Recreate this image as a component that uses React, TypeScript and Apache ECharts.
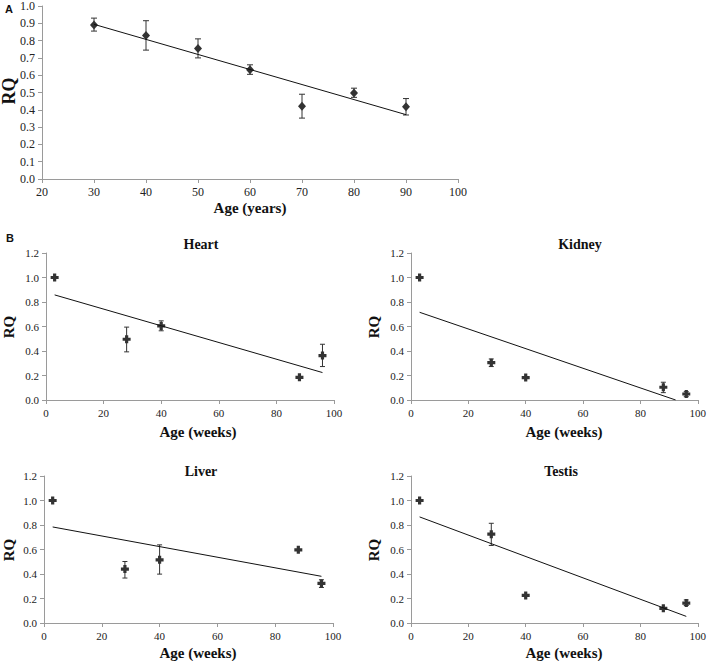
import React, { useEffect, useRef } from "react";
import * as echarts from "echarts";

// ---- Panel A (human, years) ----
const A_AGE = [30, 40, 50, 60, 70, 80, 90];
const A_RQ = [0.89, 0.83, 0.755, 0.632, 0.42, 0.497, 0.418];
const A_LOW = [0.855, 0.745, 0.7, 0.605, 0.352, 0.472, 0.37];
const A_HIGH = [0.93, 0.915, 0.81, 0.66, 0.49, 0.525, 0.465];
const A_TREND_X = [30, 90];
const A_TREND_Y = [0.894, 0.372];

// ---- Panel B (mouse tissues, weeks) ----
const WEEKS = [3, 28, 40, 88, 96];

const HEART_RQ = [1.0, 0.496, 0.605, 0.185, 0.363];
const HEART_LOW = [1.0, 0.393, 0.565, 0.185, 0.273];
const HEART_HIGH = [1.0, 0.595, 0.646, 0.185, 0.455];
const HEART_TREND_X = [3, 96];
const HEART_TREND_Y = [0.858, 0.224];

const KIDNEY_RQ = [1.0, 0.305, 0.183, 0.104, 0.049];
const KIDNEY_LOW = [1.0, 0.273, 0.183, 0.06, 0.027];
const KIDNEY_HIGH = [1.0, 0.335, 0.183, 0.145, 0.068];
const KIDNEY_TREND_X = [3, 92.3];
const KIDNEY_TREND_Y = [0.716, 0.0];

const LIVER_RQ = [1.0, 0.44, 0.516, 0.597, 0.323];
const LIVER_LOW = [1.0, 0.367, 0.399, 0.597, 0.29];
const LIVER_HIGH = [1.0, 0.502, 0.638, 0.597, 0.353];
const LIVER_TREND_X = [3, 96];
const LIVER_TREND_Y = [0.784, 0.381];

const TESTIS_RQ = [1.0, 0.725, 0.225, 0.12, 0.163];
const TESTIS_LOW = [1.0, 0.633, 0.225, 0.12, 0.143];
const TESTIS_HIGH = [1.0, 0.814, 0.225, 0.12, 0.188];
const TESTIS_TREND_X = [3, 96];
const TESTIS_TREND_Y = [0.866, 0.054];

const PANEL_TITLES = ["Heart", "Kidney", "Liver", "Testis"];

const SERIF = "Liberation Serif";
const SANS = "Liberation Sans";
const AXIS_COLOR = "#9a9a9a";
const MARK_COLOR = "#333333";
const PLUS = "path://M3,0 L7,0 L7,3 L10,3 L10,7 L7,7 L7,10 L3,10 L3,7 L0,7 L0,3 L3,3 Z";

export default function App() {
  const ref = useRef<HTMLDivElement>(null);

  useEffect(() => {
    if (!ref.current) return;
    const chart = echarts.init(ref.current, null, { renderer: "svg" });

    const grids = [
      { left: 42, top: 4, width: 416, height: 175 },
      { left: 46, top: 253, width: 288, height: 147 },
      { left: 411, top: 253, width: 289, height: 147 },
      { left: 44, top: 476, width: 289, height: 147 },
      { left: 411, top: 476, width: 289, height: 147 },
    ];

    const axisCommon = (fontSize: number) => ({
      type: "value" as const,
      axisLine: { show: true, lineStyle: { color: AXIS_COLOR, width: 1 } },
      axisTick: { show: true, length: 4, lineStyle: { color: AXIS_COLOR } },
      splitLine: { show: false },
      axisLabel: { fontFamily: SERIF, fontSize, color: "#222", margin: 7 },
    });

    const xAxes: any[] = [
      { ...axisCommon(12), gridIndex: 0, min: 20, max: 100, interval: 10 },
    ];
    const yAxes: any[] = [
      {
        ...axisCommon(12),
        gridIndex: 0,
        min: 0,
        max: 1,
        interval: 0.1,
        axisLabel: { ...axisCommon(12).axisLabel, formatter: (v: number) => v.toFixed(1) },
      },
    ];
    for (let i = 1; i <= 4; i++) {
      xAxes.push({ ...axisCommon(11), gridIndex: i, min: 0, max: 100, interval: 20 });
      yAxes.push({
        ...axisCommon(11),
        gridIndex: i,
        min: 0,
        max: 1.2,
        interval: 0.2,
        axisLabel: { ...axisCommon(11).axisLabel, formatter: (v: number) => v.toFixed(1) },
      });
    }

    const errorSeries = (idx: number, xs: number[], lo: number[], hi: number[], cap: number) => ({
      type: "custom",
      coordinateSystem: "cartesian2d",
      xAxisIndex: idx,
      yAxisIndex: idx,
      silent: true,
      z: 2,
      data: xs.map((x, i) => [x, lo[i], hi[i]]).filter((d) => d[2] > d[1]),
      renderItem: (_p: any, api: any) => {
        const x = api.value(0);
        const p1 = api.coord([x, api.value(2)]);
        const p2 = api.coord([x, api.value(1)]);
        const st = { stroke: MARK_COLOR, lineWidth: 1 };
        return {
          type: "group",
          children: [
            { type: "line", shape: { x1: p1[0], y1: p1[1], x2: p2[0], y2: p2[1] }, style: st },
            { type: "line", shape: { x1: p1[0] - cap, y1: p1[1], x2: p1[0] + cap, y2: p1[1] }, style: st },
            { type: "line", shape: { x1: p2[0] - cap, y1: p2[1], x2: p2[0] + cap, y2: p2[1] }, style: st },
          ],
        };
      },
    });

    const scatterSeries = (idx: number, xs: number[], ys: number[], symbol: string, size: any) => ({
      type: "scatter",
      xAxisIndex: idx,
      yAxisIndex: idx,
      symbol,
      symbolSize: size,
      itemStyle: { color: MARK_COLOR, opacity: 1 },
      z: 3,
      data: xs.map((x, i) => [x, ys[i]]),
    });

    const trendSeries = (idx: number, xs: number[], ys: number[]) => ({
      type: "line",
      xAxisIndex: idx,
      yAxisIndex: idx,
      symbol: "none",
      silent: true,
      lineStyle: { color: "#111", width: 1 },
      z: 4,
      data: xs.map((x, i) => [x, ys[i]]),
    });

    const panels = [
      { rq: HEART_RQ, lo: HEART_LOW, hi: HEART_HIGH, tx: HEART_TREND_X, ty: HEART_TREND_Y },
      { rq: KIDNEY_RQ, lo: KIDNEY_LOW, hi: KIDNEY_HIGH, tx: KIDNEY_TREND_X, ty: KIDNEY_TREND_Y },
      { rq: LIVER_RQ, lo: LIVER_LOW, hi: LIVER_HIGH, tx: LIVER_TREND_X, ty: LIVER_TREND_Y },
      { rq: TESTIS_RQ, lo: TESTIS_LOW, hi: TESTIS_HIGH, tx: TESTIS_TREND_X, ty: TESTIS_TREND_Y },
    ];

    const series: any[] = [
      errorSeries(0, A_AGE, A_LOW, A_HIGH, 3),
      scatterSeries(0, A_AGE, A_RQ, "diamond", [8, 9]),
      trendSeries(0, A_TREND_X, A_TREND_Y),
    ];
    panels.forEach((p, k) => {
      const idx = k + 1;
      series.push(errorSeries(idx, WEEKS, p.lo, p.hi, 2.5));
      series.push(scatterSeries(idx, WEEKS, p.rq, PLUS, 8));
      series.push(trendSeries(idx, p.tx, p.ty));
    });

    const txt = (text: string, x: number, y: number, size: number, opts: any = {}) => ({
      type: "text",
      x,
      y,
      rotation: opts.rotation || 0,
      style: {
        text,
        fontFamily: opts.family || SERIF,
        fontSize: size,
        fontWeight: "bold",
        fill: "#111",
        textAlign: "center",
        textVerticalAlign: "middle",
      },
    });
    const ROT = Math.PI / 2;

    const graphic: any[] = [
      txt("A", 9, 9, 11, { family: SANS }),
      txt("B", 10, 238, 11, { family: SANS }),
      txt("RQ", 9, 91, 18, { rotation: ROT }),
      txt("Age (years)", 250, 208, 15),
      // titles
      txt(PANEL_TITLES[0], 201, 244, 14),
      txt(PANEL_TITLES[1], 580, 244, 14),
      txt(PANEL_TITLES[2], 201, 471, 14),
      txt(PANEL_TITLES[3], 561, 471, 14),
      // axis titles B
      txt("RQ", 9, 327, 15, { rotation: ROT }),
      txt("Age (weeks)", 198, 432, 15),
      txt("RQ", 374, 327, 15, { rotation: ROT }),
      txt("Age (weeks)", 564, 432, 15),
      txt("RQ", 9, 550, 15, { rotation: ROT }),
      txt("Age (weeks)", 198, 653, 15),
      txt("RQ", 374, 550, 15, { rotation: ROT }),
      txt("Age (weeks)", 564, 653, 15),
    ];

    chart.setOption({
      animation: false,
      backgroundColor: "#ffffff",
      grid: grids,
      xAxis: xAxes,
      yAxis: yAxes,
      series,
      graphic,
    });

    return () => chart.dispose();
  }, []);

  return (
    <div
      ref={ref}
      style={{ position: "absolute", left: 0, top: 0, width: 709, height: 661, background: "#fff" }}
    />
  );
}
